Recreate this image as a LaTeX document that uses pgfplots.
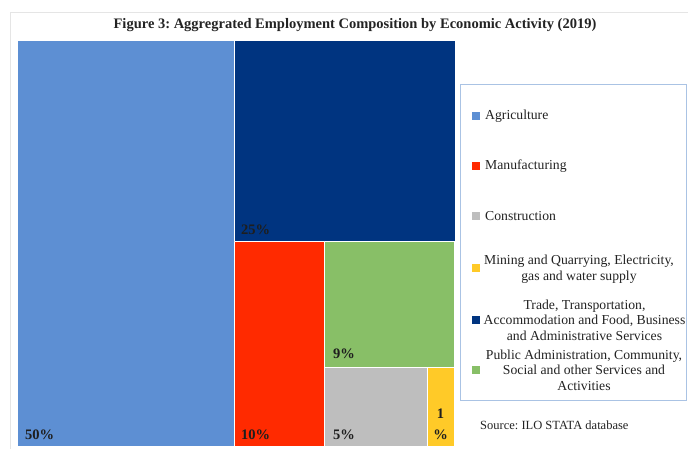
\documentclass[border=0pt]{standalone}
\usepackage{pgfplots}
\pgfplotsset{compat=1.18}
\usepackage{fontspec}
\setmainfont{Liberation Serif}
\frenchspacing
\definecolor{cAgr}{RGB}{93,143,211}
\definecolor{cTrade}{RGB}{0,52,128}
\definecolor{cMan}{RGB}{255,42,0}
\definecolor{cPub}{RGB}{136,191,103}
\definecolor{cCon}{RGB}{190,190,190}
\definecolor{cMin}{RGB}{255,202,40}
\definecolor{cTxt}{RGB}{35,35,35}
\definecolor{cLeg}{RGB}{170,195,228}
\begin{document}
\begin{tikzpicture}
\begin{axis}[
  scale only axis, width=688pt, height=448pt,
  xmin=0, xmax=688, ymin=0, ymax=448, y dir=reverse,
  hide axis, clip=false,
]
\coordinate (ll) at (axis cs:0,448);
\coordinate (ur) at (axis cs:688,0);
% outer frame
\addplot[draw=black!10, line width=0.8pt] coordinates {(692,12) (10,12) (10,452)};
% treemap tiles
\addplot[fill=cAgr, draw=white, line width=0.8pt] coordinates {(17,40) (234.5,40) (234.5,446) (17,446) (17,40)};
\addplot[fill=cTrade, draw=white, line width=0.8pt] coordinates {(234.5,40) (455,40) (455,241.5) (234.5,241.5) (234.5,40)};
\addplot[fill=cMan, draw=white, line width=0.8pt] coordinates {(234.5,241.5) (324.5,241.5) (324.5,446) (234.5,446) (234.5,241.5)};
\addplot[fill=cPub, draw=white, line width=0.8pt] coordinates {(324.5,241.5) (454,241.5) (454,367) (324.5,367) (324.5,241.5)};
\addplot[fill=cCon, draw=white, line width=0.8pt] coordinates {(324.5,367) (427.5,367) (427.5,446) (324.5,446) (324.5,367)};
\addplot[fill=cMin, draw=white, line width=0.8pt] coordinates {(427.5,367) (454,367) (454,446) (427.5,446) (427.5,367)};
% legend box
\addplot[fill=white, draw=cLeg, line width=1pt] coordinates {(460,84.5) (686,84.5) (686,400) (460,400) (460,84.5)};
% legend markers
\addplot[only marks, mark=square*, mark size=3.6pt, color=cAgr] coordinates {(476,116)};
\addplot[only marks, mark=square*, mark size=3.6pt, color=cMan] coordinates {(476,166)};
\addplot[only marks, mark=square*, mark size=3.6pt, color=cCon] coordinates {(476,216)};
\addplot[only marks, mark=square*, mark size=3.6pt, color=cMin] coordinates {(476,268)};
\addplot[only marks, mark=square*, mark size=3.6pt, color=cTrade] coordinates {(476,320)};
\addplot[only marks, mark=square*, mark size=3.6pt, color=cPub] coordinates {(476,370)};
% title
\node[font=\fontsize{14.5}{16}\selectfont\bfseries, text=cTxt, inner sep=0pt] at (axis cs:355,25) {Figure 3: Aggregrated Employment Composition by Economic Activity (2019)};
% tile labels
\begin{scope}[font=\fontsize{14.5}{15}\selectfont\bfseries, text=cTxt!85!black, inner sep=0pt]
\node[anchor=base west] at (axis cs:25,439) {50\%};
\node[anchor=base west] at (axis cs:241,234) {25\%};
\node[anchor=base west] at (axis cs:241,439) {10\%};
\node[anchor=base west] at (axis cs:333,358) {9\%};
\node[anchor=base west] at (axis cs:333,439) {5\%};
\node[anchor=base] at (axis cs:440.5,418) {1};
\node[anchor=base] at (axis cs:440.5,439) {\%};
\end{scope}
% legend text
\begin{scope}[font=\fontsize{13.7}{15.5}\selectfont, text=cTxt, inner sep=0pt]
\node[anchor=west] at (axis cs:485,116) {Agriculture};
\node[anchor=west] at (axis cs:485,166) {Manufacturing};
\node[anchor=west] at (axis cs:485,216) {Construction};
\node[align=center] at (axis cs:579,269) {Mining and Quarrying, Electricity,\\gas and water supply};
\node[align=center] at (axis cs:584.5,320) {Trade, Transportation,\\Accommodation and Food, Business\\and Administrative Services};
\node[align=center] at (axis cs:584,370) {Public Administration, Community,\\Social and other Services and\\Activities};
\end{scope}
\node[anchor=west, inner sep=0pt, font=\fontsize{12.5}{14}\selectfont, text=cTxt] at (axis cs:480,425) {Source: ILO STATA database};
\end{axis}
\pgfresetboundingbox
\path (ll) rectangle (ur);
\end{tikzpicture}
\end{document}
